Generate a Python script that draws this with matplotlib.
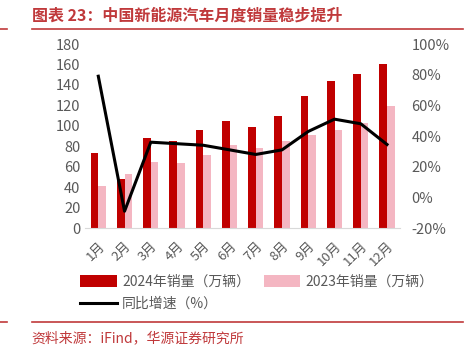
import matplotlib.pyplot as plt
import numpy as np

plt.rcParams['font.family'] = ['Noto Sans CJK SC', 'DejaVu Sans']

months = ['1月', '2月', '3月', '4月', '5月', '6月', '7月', '8月', '9月', '10月', '11月', '12月']
sales_2024 = [73, 48, 88.5, 85, 95.5, 105, 99, 110, 129, 143.5, 151, 160]
sales_2023 = [41, 52.5, 65, 64, 71.5, 81, 78.5, 85, 91, 96, 103, 119]
yoy_growth = [79, -9, 36, 35, 34, 31, 28, 31, 43, 51, 48, 34.5]

DARK = '#C00000'
PINK = '#F4B6C2'
GRAY = '#595959'
TITLE_RED = '#C0393B'


def main():
    fig = plt.figure(figsize=(4.68, 3.52), dpi=100)
    ax = fig.add_axes([0.182, 0.352, 0.673, 0.523])
    x = np.arange(len(months))
    w = 0.29
    b1 = ax.bar(x - w / 2, sales_2024, w, color=DARK, label='2024年销量（万辆）')
    b2 = ax.bar(x + w / 2, sales_2023, w, color=PINK, label='2023年销量（万辆）')
    ax.set_xlim(-0.5, len(months) - 0.5)
    ax.set_ylim(0, 180)
    ax.set_yticks(range(0, 181, 20))
    ax.set_xticks(x)
    ax.set_xticklabels(months, rotation=45, ha='right', va='top', rotation_mode='anchor')
    ax.tick_params(axis='both', length=0, colors=GRAY, labelsize=10.5)
    ax.tick_params(axis='x', pad=8, labelsize=9.5)
    for s in ['top', 'right', 'left']:
        ax.spines[s].set_visible(False)
    ax.spines['bottom'].set_color('#D9D9D9')

    ax2 = ax.twinx()
    l1, = ax2.plot(x, yoy_growth, color='black', lw=2.2, label='同比增速（%）')
    ax2.set_ylim(-20, 100)
    ax2.set_yticks(range(-20, 101, 20))
    ax2.set_yticklabels([f'{v}%' for v in range(-20, 101, 20)])
    ax2.tick_params(axis='y', length=0, colors=GRAY, labelsize=10.5, pad=8)
    for s in ['top', 'right', 'left', 'bottom']:
        ax2.spines[s].set_visible(False)

    fig.legend([b1, l1, b2], [b1.get_label(), l1.get_label(), b2.get_label()],
               loc='upper left', bbox_to_anchor=(0.16, 0.235), ncol=2, frameon=False,
               fontsize=10, handlelength=2.6, handleheight=0.9, columnspacing=1.0,
               labelcolor=GRAY, borderaxespad=0, handletextpad=0.4, labelspacing=0.6)

    fig.text(0.068, 0.955, '图表 23：中国新能源汽车月度销量稳步提升', color=TITLE_RED,
             fontsize=11.5, fontweight='bold', va='center')
    fig.add_artist(plt.Line2D([0.068, 0.99], [0.918, 0.918], color=TITLE_RED, lw=1.2))
    fig.add_artist(plt.Line2D([0.0, 0.015], [0.918, 0.918], color=TITLE_RED, lw=1.2))
    fig.add_artist(plt.Line2D([0.068, 0.99], [0.085, 0.085], color=TITLE_RED, lw=1.2))
    fig.add_artist(plt.Line2D([0.0, 0.015], [0.085, 0.085], color=TITLE_RED, lw=1.2))
    fig.text(0.068, 0.04, '资料来源：iFind，华源证券研究所', color=TITLE_RED, fontsize=10, va='center')

    fig.savefig('out.png', dpi=100)


if __name__ == '__main__':
    main()
